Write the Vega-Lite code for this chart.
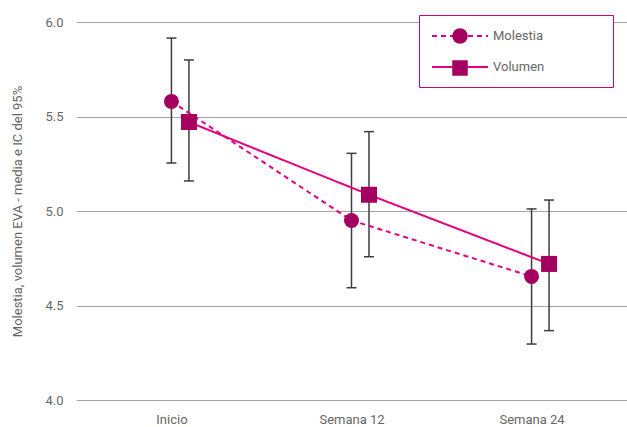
{
  "$schema": "https://vega.github.io/schema/vega-lite/v6.json",
  "width": 551,
  "height": 378,
  "autosize": {"type": "none"},
  "padding": {"left": 76, "top": 22, "right": 0, "bottom": 27},
  "background": "white",
  "config": {
    "view": {"stroke": null},
    "font": "Roboto",
    "axis": {
      "labelFont": "Roboto",
      "labelFontSize": 13,
      "labelColor": "#666666",
      "titleFont": "Roboto",
      "titleFontSize": 13,
      "titleFontWeight": "normal",
      "titleColor": "#666666",
      "domain": false,
      "ticks": false
    },
    "axisY": {"grid": true, "gridColor": "#a5a5a5", "gridWidth": 1, "labelPadding": 13, "titlePadding": 20},
    "axisX": {"grid": false, "labelAngle": 0, "labelPadding": 13},
    "legend": {"labelFont": "Roboto"}
  },
  "data": {
    "values": [
      {"tiempo": "Inicio", "serie": "Molestia", "media": 5.58, "lo": 5.254, "hi": 5.915},
      {"tiempo": "Semana 12", "serie": "Molestia", "media": 4.95, "lo": 4.594, "hi": 5.305},
      {"tiempo": "Semana 24", "serie": "Molestia", "media": 4.654, "lo": 4.296, "hi": 5.011},
      {"tiempo": "Inicio", "serie": "Volumen", "media": 5.471, "lo": 5.159, "hi": 5.799},
      {"tiempo": "Semana 12", "serie": "Volumen", "media": 5.086, "lo": 4.758, "hi": 5.42},
      {"tiempo": "Semana 24", "serie": "Volumen", "media": 4.72, "lo": 4.367, "hi": 5.058}
    ]
  },
  "encoding": {
    "x": {
      "field": "tiempo",
      "type": "ordinal",
      "sort": ["Inicio", "Semana 12", "Semana 24"],
      "scale": {"type": "point", "padding": 0.53},
      "title": null
    }
  },
  "layer": [
    {
      "transform": [{"filter": "datum.serie === 'Molestia'"}],
      "mark": {"type": "rule", "color": "#3c3c3c", "strokeWidth": 1.5},
      "encoding": {
        "y": {"field": "lo", "type": "quantitative", "title": "Molestia, volumen EVA - media e IC del 95%", "scale": {"domain": [4, 6]}, "axis": {"values": [4, 4.5, 5, 5.5, 6], "format": ".1f"}},
        "y2": {"field": "hi"}
      }
    },
    {
      "transform": [{"filter": "datum.serie === 'Volumen'"}],
      "mark": {"type": "rule", "color": "#3c3c3c", "strokeWidth": 1.5, "xOffset": 17.5},
      "encoding": {
        "y": {"field": "lo", "type": "quantitative", "title": "Molestia, volumen EVA - media e IC del 95%", "scale": {"domain": [4, 6]}},
        "y2": {"field": "hi"}
      }
    },
    {
      "transform": [{"filter": "datum.serie === 'Molestia'"}],
      "mark": {"type": "tick", "color": "#3c3c3c", "thickness": 1.5, "size": 10, "opacity": 1, "orient": "horizontal"},
      "encoding": {
        "y": {"field": "lo", "type": "quantitative", "title": "Molestia, volumen EVA - media e IC del 95%", "scale": {"domain": [4, 6]}}
      }
    },
    {
      "transform": [{"filter": "datum.serie === 'Molestia'"}],
      "mark": {"type": "tick", "color": "#3c3c3c", "thickness": 1.5, "size": 10, "opacity": 1, "orient": "horizontal"},
      "encoding": {
        "y": {"field": "hi", "type": "quantitative", "title": "Molestia, volumen EVA - media e IC del 95%", "scale": {"domain": [4, 6]}}
      }
    },
    {
      "transform": [{"filter": "datum.serie === 'Volumen'"}],
      "mark": {"type": "tick", "color": "#3c3c3c", "thickness": 1.5, "size": 10, "opacity": 1, "orient": "horizontal", "xOffset": 17.5},
      "encoding": {
        "y": {"field": "lo", "type": "quantitative", "title": "Molestia, volumen EVA - media e IC del 95%", "scale": {"domain": [4, 6]}}
      }
    },
    {
      "transform": [{"filter": "datum.serie === 'Volumen'"}],
      "mark": {"type": "tick", "color": "#3c3c3c", "thickness": 1.5, "size": 10, "opacity": 1, "orient": "horizontal", "xOffset": 17.5},
      "encoding": {
        "y": {"field": "hi", "type": "quantitative", "title": "Molestia, volumen EVA - media e IC del 95%", "scale": {"domain": [4, 6]}}
      }
    },
    {
      "transform": [{"filter": "datum.serie === 'Molestia'"}],
      "mark": {"type": "line", "color": "#e4007c", "strokeWidth": 2},
      "encoding": {
        "y": {"field": "media", "type": "quantitative", "title": "Molestia, volumen EVA - media e IC del 95%", "scale": {"domain": [4, 6]}},
        "strokeDash": {
          "field": "serie",
          "type": "nominal",
          "scale": {"domain": ["Molestia", "Volumen"], "range": [[5, 4], [1, 0]]},
          "legend": {
            "orient": "none", "legendX": 343, "legendY": -7,
            "title": " ", "titleOrient": "right", "titlePadding": 56, "titleFontSize": 13,
            "padding": 13, "strokeColor": "#cc0074", "fillColor": "white",
            "symbolType": "M-4,0L4,0", "symbolSize": 196, "symbolStrokeWidth": 2,
            "symbolStrokeColor": "#e4007c", "symbolOffset": 20, "labelOffset": 25,
            "labelFontSize": 13, "labelColor": "#666666", "rowPadding": 16, "zindex": 1,
            "encode": {"legend": {"update": {"stroke": {"value": "#cc0074"}, "strokeWidth": {"value": 1}}}}
          }
        }
      }
    },
    {
      "transform": [{"filter": "datum.serie === 'Volumen'"}],
      "mark": {"type": "line", "color": "#e4007c", "strokeWidth": 2, "xOffset": 17.5},
      "encoding": {
        "y": {"field": "media", "type": "quantitative", "title": "Molestia, volumen EVA - media e IC del 95%", "scale": {"domain": [4, 6]}},
        "strokeDash": {
          "field": "serie",
          "type": "nominal",
          "scale": {"domain": ["Molestia", "Volumen"], "range": [[5, 4], [1, 0]]}
        }
      }
    },
    {
      "transform": [{"filter": "datum.serie === 'Molestia'"}],
      "mark": {"type": "point", "filled": true, "size": 225, "color": "#a3005f", "opacity": 1},
      "encoding": {
        "y": {"field": "media", "type": "quantitative", "title": "Molestia, volumen EVA - media e IC del 95%", "scale": {"domain": [4, 6]}},
        "shape": {
          "field": "serie",
          "type": "nominal",
          "scale": {"range": ["circle", "square"]},
          "legend": {
            "orient": "none", "legendX": 363, "legendY": -7, "title": null,
            "padding": 13, "symbolSize": 240, "symbolStrokeWidth": 0,
            "symbolFillColor": "#a3005f", "labelExpr": "''", "labelFontSize": 13,
            "rowPadding": 16, "zindex": 2
          }
        }
      }
    },
    {
      "transform": [{"filter": "datum.serie === 'Volumen'"}],
      "mark": {"type": "point", "filled": true, "size": 256, "color": "#a3005f", "opacity": 1, "xOffset": 17.5},
      "encoding": {
        "y": {"field": "media", "type": "quantitative", "title": "Molestia, volumen EVA - media e IC del 95%", "scale": {"domain": [4, 6]}},
        "shape": {
          "field": "serie",
          "type": "nominal",
          "scale": {"range": ["circle", "square"]}
        }
      }
    }
  ]
}
